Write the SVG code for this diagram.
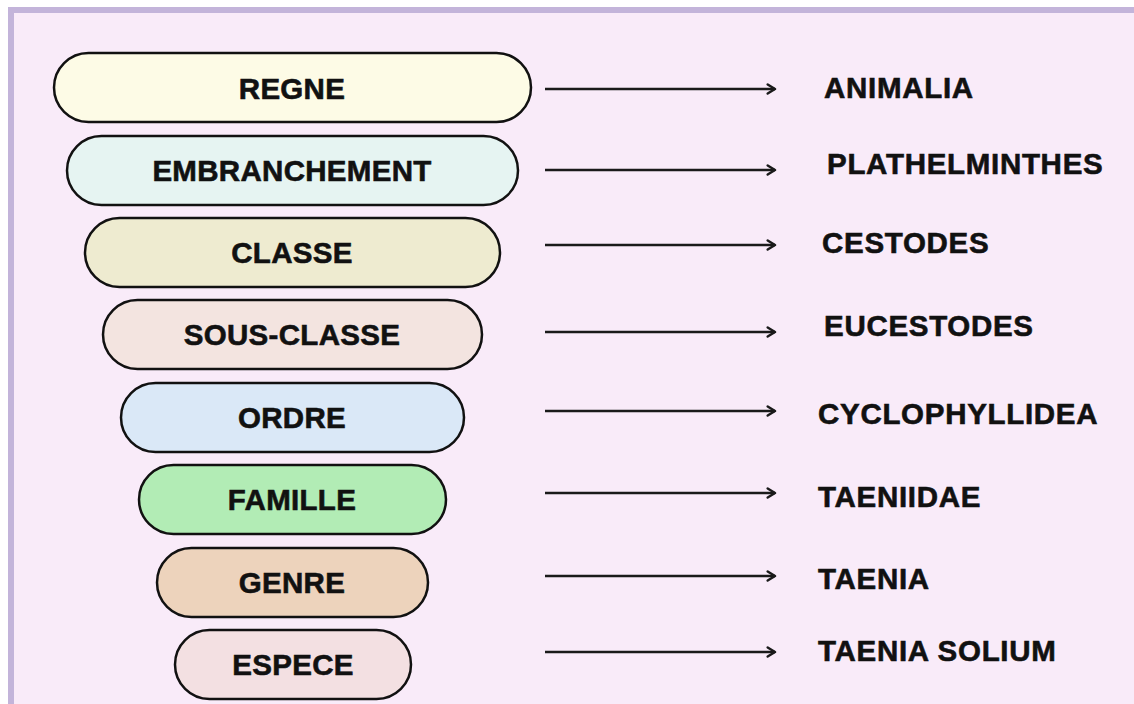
<svg xmlns="http://www.w3.org/2000/svg" width="1134" height="704" viewBox="0 0 1134 704">
<style>
.pill{stroke:#111;stroke-width:2.5}
.lbl{font-family:"Liberation Sans",Arial,sans-serif;font-weight:bold;font-size:29.5px;fill:#111;stroke:#111;stroke-width:0.6;text-anchor:middle;dominant-baseline:central;letter-spacing:0.3px}
.val{font-family:"Liberation Sans",Arial,sans-serif;font-weight:bold;font-size:29.5px;fill:#111;stroke:#111;stroke-width:0.6;dominant-baseline:central;letter-spacing:0.7px}
.arr{stroke:#1a1a1a;stroke-width:2.5;fill:none;marker-end:url(#ah)}
</style>
<defs>
<marker id="ah" viewBox="0 0 10 10" refX="8" refY="5" markerWidth="4.5" markerHeight="4.5" orient="auto" markerUnits="strokeWidth">
<path d="M1.5,1 L8,5 L1.5,9" fill="none" stroke="#1a1a1a" stroke-width="2.2" stroke-linecap="round" stroke-linejoin="round"/>
</marker>
</defs>
<rect x="0" y="0" width="1134" height="704" fill="#ffffff"/>
<rect x="11" y="10" width="1130" height="700" fill="#F9EBF9" stroke="#C3B4DA" stroke-width="6"/>
<g id="n-regne"><rect class="pill" x="54" y="53" width="477" height="69" rx="34.5" fill="#FDFBE6"/><text class="lbl" x="292" y="88">REGNE</text></g>
<g id="n-embranchement"><rect class="pill" x="67" y="136" width="451" height="69" rx="34.5" fill="#E6F4F2"/><text class="lbl" x="292" y="170">EMBRANCHEMENT</text></g>
<g id="n-classe"><rect class="pill" x="85" y="218" width="415" height="69" rx="34.5" fill="#EEEBD0"/><text class="lbl" x="292" y="252">CLASSE</text></g>
<g id="n-sousclasse"><rect class="pill" x="103" y="300" width="379" height="69" rx="34.5" fill="#F3E4E0"/><text class="lbl" x="292" y="334">SOUS-CLASSE</text></g>
<g id="n-ordre"><rect class="pill" x="121" y="383" width="343" height="69" rx="34.5" fill="#DAE8F7"/><text class="lbl" x="292" y="417">ORDRE</text></g>
<g id="n-famille"><rect class="pill" x="139" y="465" width="307" height="69" rx="34.5" fill="#B2ECB5"/><text class="lbl" x="292" y="499">FAMILLE</text></g>
<g id="n-genre"><rect class="pill" x="157" y="548" width="271" height="69" rx="34.5" fill="#EDD3BC"/><text class="lbl" x="292" y="582">GENRE</text></g>
<g id="n-espece"><rect class="pill" x="175" y="630" width="236" height="69" rx="34.5" fill="#F3E0E2"/><text class="lbl" x="293" y="664">ESPECE</text></g>
<g id="connectors">
<line class="arr" x1="545" y1="89" x2="775" y2="89"/>
<line class="arr" x1="545" y1="170" x2="775" y2="170"/>
<line class="arr" x1="545" y1="245" x2="775" y2="245"/>
<line class="arr" x1="545" y1="332" x2="775" y2="332"/>
<line class="arr" x1="545" y1="411" x2="775" y2="411"/>
<line class="arr" x1="545" y1="493" x2="775" y2="493"/>
<line class="arr" x1="545" y1="576" x2="775" y2="576"/>
<line class="arr" x1="545" y1="652" x2="775" y2="652"/>
</g>
<g id="values">
<text class="val" x="824" y="87">ANIMALIA</text>
<text class="val" x="827" y="163">PLATHELMINTHES</text>
<text class="val" x="822" y="242">CESTODES</text>
<text class="val" x="824" y="325">EUCESTODES</text>
<text class="val" x="818" y="413">CYCLOPHYLLIDEA</text>
<text class="val" x="818" y="496">TAENIIDAE</text>
<text class="val" x="818" y="578">TAENIA</text>
<text class="val" x="818" y="650">TAENIA SOLIUM</text>
</g>
</svg>
